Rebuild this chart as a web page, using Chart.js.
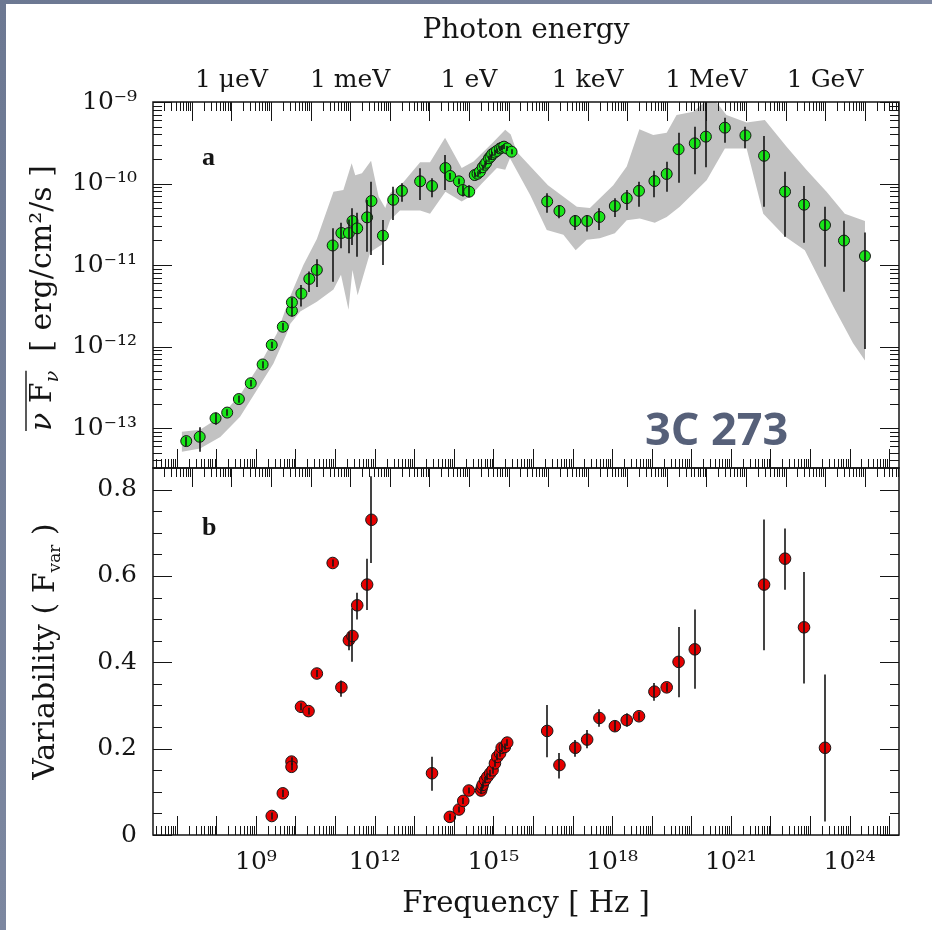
<!DOCTYPE html>
<html>
<head>
<meta charset="utf-8">
<title>3C 273 - SED and variability</title>
<script src="https://cdn.jsdelivr.net/npm/chart.js@4.4.1/dist/chart.umd.min.js"></script>
<style>
  html, body { margin: 0; padding: 0; background: #fff; }
  #wrap { position: relative; width: 932px; height: 930px; background: #fff; overflow: hidden; }
  #wrap::before { content: ''; position: absolute; left: 0; top: 0; width: 6px; height: 930px; background: linear-gradient(#6c7892, #7c87a0); }
  #wrap::after { content: ''; position: absolute; left: 0; top: 0; width: 932px; height: 4px; background: linear-gradient(90deg, #6c7892, #7f89a2); }
  canvas { position: absolute; left: 0; top: 0; }
</style>
</head>
<body>
<div id="wrap">
  <canvas id="sedChart" width="932" height="930"></canvas>
  <canvas id="varChart" width="932" height="930"></canvas>
</div>
<script>
// constants
const PLANCK_EV = 4.135667e-15;          // eV s
const LOG_NU_MIN = 6.4, LOG_NU_MAX = 25.25;
const INK = '#151515';
const SERIF = "'DejaVu Serif', serif";

// panel a: average nuFnu, log10(nu/Hz) and log10(flux / erg cm^-2 s^-1)
const sedLogNu = [7.24, 7.58, 7.98, 8.275, 8.57, 8.87, 9.17, 9.40, 9.68, 9.91, 9.91, 10.15, 10.35, 10.54,
  10.94, 11.16, 11.35, 11.44, 11.56, 11.81, 11.92, 12.21, 12.47, 12.69, 13.15, 13.45, 13.79, 13.91, 14.13,
  14.23, 14.39, 14.53, 14.60, 14.66, 14.73, 14.78, 14.82, 14.89, 14.93, 14.97, 15.03, 15.09, 15.17, 15.22,
  15.27, 15.35, 15.46, 16.36, 16.67, 17.07, 17.37, 17.68, 18.07, 18.37, 18.68, 19.07, 19.38, 19.68, 20.09,
  20.37, 20.85, 21.37, 21.84, 22.37, 22.85, 23.38, 23.86, 24.39];
const sedLogFlux = [-13.16, -13.107, -12.88, -12.81, -12.644, -12.45, -12.22, -11.98, -11.757, -11.56, -11.458,
  -11.35, -11.17, -11.06, -10.76, -10.607, -10.607, -10.46, -10.55, -10.415, -10.215, -10.64, -10.2, -10.09,
  -9.973, -10.03, -9.81, -9.908, -9.973, -10.08, -10.1, -9.896, -9.88, -9.855, -9.80, -9.77, -9.745, -9.69,
  -9.67, -9.64, -9.62, -9.60, -9.57, -9.56, -9.548, -9.57, -9.61, -10.22, -10.337, -10.46, -10.46, -10.41,
  -10.276, -10.18, -10.09, -9.97, -9.883, -9.58, -9.507, -9.425, -9.315, -9.41, -9.66, -10.10, -10.26,
  -10.51, -10.70, -10.89];
const sedLogHi = [-13.107, -12.99, -12.81, -12.77, -12.60, -12.41, -12.18, -11.94, -11.71, -11.50, -11.40,
  -11.245, -11.08, -10.93, -10.55, -10.48, -10.44, -10.304, -10.358, -10.202, -9.978, -10.448, -10.04,
  -9.998, -9.813, -9.936, -9.65, -9.87, -9.94, -10.02, -10.02, -9.866, -9.85, -9.825, -9.77, -9.74, -9.715,
  -9.66, -9.64, -9.61, -9.59, -9.57, -9.54, -9.53, -9.518, -9.54, -9.58, -10.12, -10.264, -10.387, -10.387,
  -10.304, -10.18, -10.08, -9.978, -9.843, -9.733, -9.377, -9.303, -8.9, -9.193, -9.303, -9.417, -9.855,
  -10.03, -10.285, -10.456, -10.60];
const sedLogLo = [-13.22, -13.29, -12.96, -12.85, -12.69, -12.49, -12.27, -12.02, -11.80, -11.63, -11.52,
  -11.51, -11.33, -11.27, -11.205, -10.795, -10.856, -10.755, -10.898, -10.837, -10.877, -11.0, -10.448,
  -10.223, -10.202, -10.17, -10.08, -9.95, -10.01, -10.16, -10.17, -9.926, -9.91, -9.885, -9.83, -9.80,
  -9.775, -9.72, -9.70, -9.67, -9.65, -9.63, -9.60, -9.59, -9.578, -9.60, -9.64, -10.358, -10.427, -10.57,
  -10.59, -10.57, -10.41, -10.325, -10.285, -10.17, -10.10, -9.99, -9.887, -9.80, -9.5, -9.568, -10.285,
  -10.653, -10.726, -11.02, -11.328, -12.03];

// grey envelope of the flux range (upper and lower edges)
const bandUpperLogNu = [7.13, 7.59, 8.10, 8.60, 9.11, 9.53, 9.87, 10.20, 10.54, 10.96, 11.21, 11.42, 11.51,
  11.68, 11.91, 12.10, 12.27, 12.39, 12.73, 13.15, 13.40, 13.78, 14.20, 14.50, 15.00, 15.30, 15.44, 15.59,
  16.38, 17.11, 17.44, 18.03, 18.37, 18.69, 19.04, 19.38, 19.63, 20.05, 20.39, 20.60, 20.89, 21.40, 21.86,
  22.41, 22.91, 23.42, 23.88, 24.39];
const bandUpperLogFlux = [-13.045, -13.02, -12.86, -12.595, -12.21, -11.84, -11.38, -11.0, -10.68, -10.10,
  -10.08, -9.75, -9.90, -9.875, -9.72, -10.16, -10.30, -10.12, -9.98, -9.74, -9.74, -9.44, -9.81, -9.73,
  -9.49, -9.34, -9.40, -9.61, -10.02, -10.285, -10.30, -10.02, -9.79, -9.335, -9.405, -9.376, -9.16, -9.12,
  -8.98, -8.98, -9.16, -9.25, -9.22, -9.55, -9.83, -10.10, -10.37, -10.46];
const bandLowerLogNu = [7.13, 7.59, 8.10, 8.60, 9.03, 9.44, 9.78, 9.87, 10.12, 10.54, 10.96, 11.15, 11.34,
  11.44, 11.57, 11.89, 12.18, 12.39, 12.64, 13.15, 13.40, 13.79, 14.20, 14.41, 14.71, 15.09, 15.30, 15.42,
  15.93, 16.35, 16.77, 17.08, 17.36, 17.69, 18.07, 18.37, 18.70, 19.08, 19.38, 19.71, 20.39, 20.85, 21.40,
  21.82, 22.37, 22.87, 23.59, 24.09, 24.39];
const bandLowerLogFlux = [-13.29, -13.25, -13.11, -12.86, -12.53, -12.21, -11.84, -11.72, -11.57, -11.45,
  -11.30, -11.12, -11.55, -11.06, -11.37, -10.84, -10.75, -10.45, -10.33, -10.33, -10.37, -10.10, -10.22,
  -10.16, -10.00, -9.81, -9.83, -9.69, -10.14, -10.57, -10.63, -10.82, -10.69, -10.67, -10.61, -10.45,
  -10.43, -10.48, -10.41, -10.285, -9.96, -9.57, -9.57, -10.37, -10.65, -10.82, -11.51, -11.96, -12.17];

// panel b: fractional variability F_var
const varLogNu = [9.40, 9.68, 9.90, 9.90, 10.14, 10.33, 10.54, 10.94, 11.16, 11.35, 11.44, 11.56, 11.81,
  11.92, 13.45, 13.90, 14.13, 14.24, 14.38, 14.69, 14.71, 14.73, 14.79, 14.85, 14.92, 14.98, 15.04, 15.10,
  15.17, 15.21, 15.29, 15.35, 16.36, 16.67, 17.07, 17.37, 17.68, 18.07, 18.37, 18.68, 19.07, 19.38, 19.68,
  20.09, 21.84, 22.37, 22.85, 23.38];
const fvar = [0.044, 0.0965, 0.170, 0.158, 0.297, 0.287, 0.374, 0.630, 0.342, 0.451, 0.461, 0.532, 0.580,
  0.730, 0.143, 0.042, 0.059, 0.079, 0.103, 0.103, 0.110, 0.116, 0.127, 0.135, 0.143, 0.150, 0.166, 0.181,
  0.189, 0.202, 0.204, 0.214, 0.241, 0.162, 0.202, 0.221, 0.271, 0.252, 0.266, 0.275, 0.332, 0.342, 0.401,
  0.430, 0.580, 0.640, 0.481, 0.202];
const fvarLo = [0.036, 0.088, 0.162, 0.150, 0.289, 0.279, 0.366, 0.622, 0.320, 0.428, 0.401, 0.499, 0.521,
  0.630, 0.1025, 0.035, 0.052, 0.072, 0.096, 0.095, 0.102, 0.108, 0.119, 0.127, 0.135, 0.142, 0.158, 0.173,
  0.181, 0.194, 0.196, 0.206, 0.180, 0.131, 0.181, 0.201, 0.251, 0.240, 0.251, 0.265, 0.311, 0.332, 0.319,
  0.339, 0.428, 0.568, 0.351, 0.031];
const fvarHi = [0.052, 0.105, 0.180, 0.166, 0.305, 0.295, 0.382, 0.638, 0.358, 0.470, 0.525, 0.561, 0.640,
  0.831, 0.181, 0.049, 0.066, 0.086, 0.110, 0.111, 0.118, 0.124, 0.135, 0.143, 0.151, 0.158, 0.174, 0.189,
  0.197, 0.210, 0.212, 0.222, 0.301, 0.190, 0.220, 0.243, 0.291, 0.265, 0.282, 0.285, 0.352, 0.352, 0.482,
  0.522, 0.731, 0.710, 0.609, 0.372];

// axis ticks
const freqTicks = [1e9, 1e12, 1e15, 1e18, 1e21, 1e24];
const energyTicks = [1e-6, 1e-3, 1, 1e3, 1e6, 1e9];
const energyLabels = ['1 \u03BCeV', '1 meV', '1 eV', '1 keV', '1 MeV', '1 GeV'];
const fluxTicks = [1e-9, 1e-10, 1e-11, 1e-12, 1e-13];
const fvarTicks = [0, 0.2, 0.4, 0.6, 0.8];
const FLUX_MIN_LOG = -13.49, FLUX_MAX_LOG = -9;
const FVAR_MAX = 0.85, FVAR_MINOR = 0.05, FVAR_MAJOR = 0.2;

const pow10 = v => Math.pow(10, v);
const SUP = { '-': '\u207B', '0': '\u2070', '1': '\u00B9', '2': '\u00B2', '3': '\u00B3', '4': '\u2074',
  '5': '\u2075', '6': '\u2076', '7': '\u2077', '8': '\u2078', '9': '\u2079' };
function powerLabel(v) {
  const e = String(Math.round(Math.log10(v)));
  return '10' + e.split('').map(c => SUP[c]).join('');
}

// every 1..9 x 10^n between min and max
function eachLogTick(min, max, fn) {
  for (let e = Math.floor(Math.log10(min)); e <= Math.ceil(Math.log10(max)); e++) {
    for (let k = 1; k <= 9; k++) {
      const v = k * Math.pow(10, e);
      if (v >= min * 0.9999 && v <= max * 1.0001) fn(v, k === 1);
    }
  }
}

// vertical error bars, drawn on top of the markers
const errorBars = {
  id: 'errorBars',
  afterDatasetsDraw(chart) {
    const { ctx, chartArea: a } = chart;
    ctx.save();
    ctx.beginPath();
    ctx.rect(a.left, a.top, a.right - a.left, a.bottom - a.top);
    ctx.clip();
    ctx.strokeStyle = INK;
    ctx.lineWidth = 1.6;
    chart.data.datasets.forEach((ds, i) => {
      if (!ds.errLo) return;
      const meta = chart.getDatasetMeta(i);
      const ys = chart.scales[meta.yAxisID];
      meta.data.forEach((pt, j) => {
        const x = Math.round(pt.x);
        ctx.beginPath();
        ctx.moveTo(x, ys.getPixelForValue(ds.errHi[j]));
        ctx.lineTo(x, ys.getPixelForValue(ds.errLo[j]));
        ctx.stroke();
      });
    });
    ctx.restore();
  }
};

// box with inward ticks: frequency below, photon energy above, y on both sides
const frameTicks = {
  id: 'frameTicks',
  afterDatasetsDraw(chart) {
    const { ctx, chartArea: a } = chart;
    const { x, xE, y } = chart.scales;
    const MAJOR = 19, MINOR = 9;
    ctx.save();
    ctx.strokeStyle = INK;
    ctx.lineWidth = 1;
    ctx.beginPath();
    eachLogTick(x.min, x.max, (v, major) => {
      const px = Math.round(x.getPixelForValue(v)) + 0.5;
      ctx.moveTo(px, a.bottom);
      ctx.lineTo(px, a.bottom - (major ? MAJOR : MINOR));
    });
    eachLogTick(xE.min, xE.max, (v, major) => {
      const px = Math.round(xE.getPixelForValue(v)) + 0.5;
      ctx.moveTo(px, a.top);
      ctx.lineTo(px, a.top + (major ? MAJOR : MINOR));
    });
    const yTick = (v, major) => {
      const py = Math.round(y.getPixelForValue(v)) + 0.5;
      const len = major ? MAJOR : MINOR;
      ctx.moveTo(a.left, py); ctx.lineTo(a.left + len, py);
      ctx.moveTo(a.right, py); ctx.lineTo(a.right - len, py);
    };
    if (y.type === 'logarithmic') {
      eachLogTick(y.min, y.max, yTick);
    } else {
      for (let i = 0; i * FVAR_MINOR <= y.max + 1e-9; i++) {
        const v = i * FVAR_MINOR;
        yTick(v, Math.abs(v / FVAR_MAJOR - Math.round(v / FVAR_MAJOR)) < 1e-6);
      }
    }
    ctx.stroke();
    ctx.lineWidth = 1.5;
    ctx.strokeRect(a.left, a.top, a.right - a.left, a.bottom - a.top);
    ctx.restore();
  }
};

// rotated y title built from pieces (sub/superscripts, overline)
function drawVerticalTitle(ctx, cx, cy, parts) {
  ctx.save();
  ctx.translate(cx, cy);
  ctx.rotate(-Math.PI / 2);
  ctx.fillStyle = INK;
  ctx.strokeStyle = INK;
  ctx.textAlign = 'left';
  ctx.textBaseline = 'alphabetic';
  const widths = parts.map(p => { ctx.font = p.font; return ctx.measureText(p.text).width; });
  let x = -widths.reduce((s, w) => s + w, 0) / 2;
  const base = 10;
  let barStart = null, barEnd = null;
  parts.forEach((p, i) => {
    ctx.font = p.font;
    ctx.fillText(p.text, x, base + (p.dy || 0));
    if (p.bar) {
      if (barStart === null) barStart = x;
      barEnd = x + widths[i];
    }
    x += widths[i];
  });
  if (barStart !== null) {
    ctx.lineWidth = 1.4;
    ctx.beginPath();
    ctx.moveTo(barStart, base - 25);
    ctx.lineTo(barEnd, base - 25);
    ctx.stroke();
  }
  ctx.restore();
}

function panelText(draw) {
  return { id: 'panelText', afterDraw(chart) { draw(chart.ctx, chart.chartArea); } };
}

const tickFont = { family: SERIF, size: 25 };
const hidden = { display: false, drawTicks: false };

function energyAxis(showLabels) {
  return {
    type: 'logarithmic', axis: 'x', position: 'top',
    min: pow10(LOG_NU_MIN) * PLANCK_EV, max: pow10(LOG_NU_MAX) * PLANCK_EV,
    display: showLabels,
    grid: hidden, border: { display: false },
    ticks: { autoSkip: false, maxRotation: 0, padding: 7, font: tickFont, color: INK,
             callback: (v, i) => energyLabels[i] },
    afterBuildTicks: s => { s.ticks = energyTicks.map(v => ({ value: v })); },
    afterFit: s => { s.height = showLabels ? 102 : 0; },
    title: { display: showLabels, text: 'Photon energy', color: INK,
             font: { family: SERIF, size: 28 }, padding: { top: 14, bottom: 0 } }
  };
}

// SED band as one closed outline: upper edge left to right, lower edge back
const bandOutline = bandUpperLogNu.map((n, i) => ({ x: pow10(n), y: pow10(bandUpperLogFlux[i]) }))
  .concat(bandLowerLogNu.map((n, i) => ({ x: pow10(n), y: pow10(bandLowerLogFlux[i]) })).reverse());

new Chart(document.getElementById('sedChart'), {
  type: 'scatter',
  data: {
    datasets: [
      {
        label: 'nuFnu',
        data: sedLogNu.map((n, i) => ({ x: pow10(n), y: pow10(sedLogFlux[i]) })),
        errHi: sedLogHi.map(pow10),
        errLo: sedLogLo.map(pow10),
        pointRadius: 5.5,
        pointBackgroundColor: '#19e619',
        pointBorderColor: INK,
        pointBorderWidth: 1,
        order: 1
      },
      {
        label: 'range',
        type: 'line',
        data: bandOutline,
        fill: 'shape',
        backgroundColor: '#c2c2c2',
        borderWidth: 0,
        pointRadius: 0,
        tension: 0,
        order: 2
      }
    ]
  },
  options: {
    responsive: false, animation: false, devicePixelRatio: 1, events: [],
    layout: { autoPadding: false, padding: { left: 0, top: 0, right: 33, bottom: 462 } },
    plugins: { legend: { display: false }, tooltip: { enabled: false } },
    scales: {
      x: { type: 'logarithmic', position: 'bottom', min: pow10(LOG_NU_MIN), max: pow10(LOG_NU_MAX), display: false },
      xE: energyAxis(true),
      y: {
        type: 'logarithmic', position: 'left', min: pow10(FLUX_MIN_LOG), max: pow10(FLUX_MAX_LOG),
        grid: hidden, border: { display: false },
        ticks: { padding: 16, font: tickFont, color: INK, callback: v => powerLabel(v) },
        afterBuildTicks: s => { s.ticks = fluxTicks.map(v => ({ value: v })); },
        afterFit: s => { s.width = 153; }
      }
    }
  },
  plugins: [errorBars, frameTicks, panelText((ctx, a) => {
    drawVerticalTitle(ctx, a.left - 112, (a.top + a.bottom) / 2 + 13, [
      { text: '\u03BD', font: `italic 30px ${SERIF}`, bar: true },
      { text: ' F', font: `30px ${SERIF}`, bar: true },
      { text: '\u03BD', font: `italic 19px ${SERIF}`, dy: 7, bar: true },
      { text: '  [ erg/cm\u00B2/s ]', font: `30px ${SERIF}` }
    ]);
    ctx.save();
    ctx.fillStyle = INK;
    ctx.font = "bold 26px 'Liberation Serif', serif";
    ctx.fillText('a', a.left + 49, a.top + 63);
    ctx.fillStyle = '#566079';
    ctx.font = "bold 45px 'Open Sans', sans-serif";
    ctx.fillText('3C 273', a.left + 492, a.bottom - 23);
    ctx.restore();
  })]
});

new Chart(document.getElementById('varChart'), {
  type: 'scatter',
  data: {
    datasets: [{
      label: 'Fvar',
      data: varLogNu.map((n, i) => ({ x: pow10(n), y: fvar[i] })),
      errLo: fvarLo,
      errHi: fvarHi,
      pointRadius: 5.8,
      pointBackgroundColor: '#e60000',
      pointBorderColor: INK,
      pointBorderWidth: 1
    }]
  },
  options: {
    responsive: false, animation: false, devicePixelRatio: 1, events: [],
    layout: { autoPadding: false, padding: { left: 0, top: 468, right: 33, bottom: 0 } },
    plugins: { legend: { display: false }, tooltip: { enabled: false } },
    scales: {
      x: {
        type: 'logarithmic', position: 'bottom', min: pow10(LOG_NU_MIN), max: pow10(LOG_NU_MAX),
        grid: hidden, border: { display: false },
        ticks: { autoSkip: false, maxRotation: 0, padding: 12, font: tickFont, color: INK,
                 callback: v => powerLabel(v) },
        afterBuildTicks: s => { s.ticks = freqTicks.map(v => ({ value: v })); },
        afterFit: s => { s.height = 95; },
        title: { display: true, text: 'Frequency [ Hz ]', color: INK,
                 font: { family: SERIF, size: 29 }, padding: { top: 0, bottom: 8 } }
      },
      xE: energyAxis(false),
      y: {
        type: 'linear', position: 'left', min: 0, max: FVAR_MAX,
        grid: hidden, border: { display: false },
        ticks: { padding: 16, font: tickFont, color: INK, callback: v => (v === 0 ? '0' : v.toFixed(1)) },
        afterBuildTicks: s => { s.ticks = fvarTicks.map(v => ({ value: v })); },
        afterFit: s => { s.width = 153; }
      }
    }
  },
  plugins: [errorBars, frameTicks, panelText((ctx, a) => {
    drawVerticalTitle(ctx, a.left - 109, (a.top + a.bottom) / 2, [
      { text: 'Variability ( F', font: `30px ${SERIF}` },
      { text: 'var', font: `17px ${SERIF}`, dy: 6 },
      { text: ' )', font: `30px ${SERIF}` }
    ]);
    ctx.save();
    ctx.fillStyle = INK;
    ctx.font = "bold 26px 'Liberation Serif', serif";
    ctx.fillText('b', a.left + 49, a.top + 67);
    ctx.restore();
  })]
});
</script>
</body>
</html>
